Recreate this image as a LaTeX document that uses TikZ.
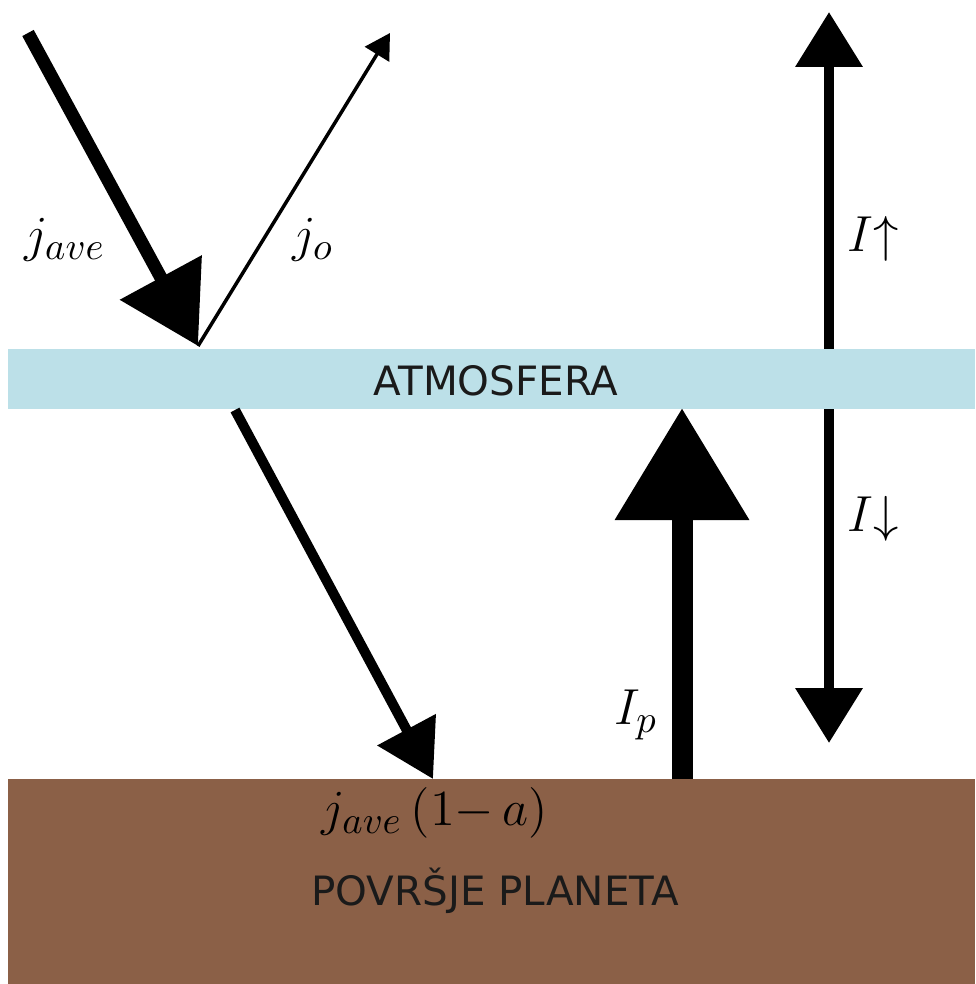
\documentclass[tikz,border=0pt]{standalone}
\usepackage{fontspec}
\usepackage{tikz}
\newfontfamily\layerfont{DejaVu Sans}
\usetikzlibrary{
arrows.meta
}
\definecolor{AtmoBlue}{HTML}{BCE0E8}
\definecolor{GroundBrown}{HTML}{8B6047}
\definecolor{LayerInk}{HTML}{1A1A1A}
\tikzset{
layerbox/.style={draw=none, inner sep=0pt, minimum width=96.7mm},
layertext/.style={font=\layerfont\fontsize{11.5}{13.5}\selectfont, text=LayerInk, inner sep=0pt},
fluxlabel/.style={font=\fontsize{15.5}{18}\selectfont, inner sep=0pt},
fluxin/.style={-{Triangle[length=7.8mm, width=9mm]}, line width=1.3mm},
fluxout/.style={-{Triangle[length=2.5mm, width=2.8mm]}, line width=0.35mm},
fluxdown/.style={-{Triangle[length=5.6mm, width=6.4mm]}, line width=1mm},
fluxup/.style={-{Triangle[length=11.2mm, width=12.9mm]}, line width=2.1mm},
fluxboth/.style={{Triangle[length=5.5mm, width=6.5mm]}-{Triangle[length=5.5mm, width=6.5mm]}, line width=1.05mm}
}
\begin{document}
\begin{tikzpicture}[x=0.1mm, y=-0.1mm]
\useasboundingbox (0,0) rectangle (975,984);
% end points of the fluxes
\coordinate (inTop) at (28,33);
\coordinate (hit) at (198,346);
\coordinate (outTop) at (390,33);
\coordinate (downTop) at (235,410);
\coordinate (downEnd) at (433,779);
\coordinate (upBase) at (682,779);
\coordinate (upTip) at (682,408);
\coordinate (radTop) at (829,12);
\coordinate (radBot) at (829,743);
% atmosphere radiation, behind the layer
\draw[fluxboth] (radTop) -- (radBot);
% layers
\node[layerbox, fill=AtmoBlue, minimum height=6mm] (atm) at (491.5,378.5) {};
\node[layertext] (atmtext) at (496,381) {ATMOSFERA};
\node[layerbox, fill=GroundBrown, minimum height=20.5mm] (ground) at (491.5,881.5) {};
\node[layertext] (groundtext) at (495,891) {POVRŠJE PLANETA};
% fluxes
\draw[fluxin] (inTop) -- (hit);
\draw[fluxout] (hit) -- (outTop);
\draw[fluxdown] (downTop) -- (downEnd);
\draw[fluxup] (upBase) -- (upTip);
% labels
\node[fluxlabel] (ljave) at (65,240) {$j_{ave}$};
\node[fluxlabel] (ljo) at (313,240) {$j_o$};
\node[fluxlabel] (lIup) at (873,239) {$I{\uparrow}$};
\node[fluxlabel] (lIdown) at (873,519) {$I{\downarrow}$};
\node[fluxlabel] (lIp) at (636,715) {$I_p$};
\node[fluxlabel] (lsurf) at (435,813) {$j_{ave}\,(1{-}\,a)$};
\end{tikzpicture}
\end{document}
